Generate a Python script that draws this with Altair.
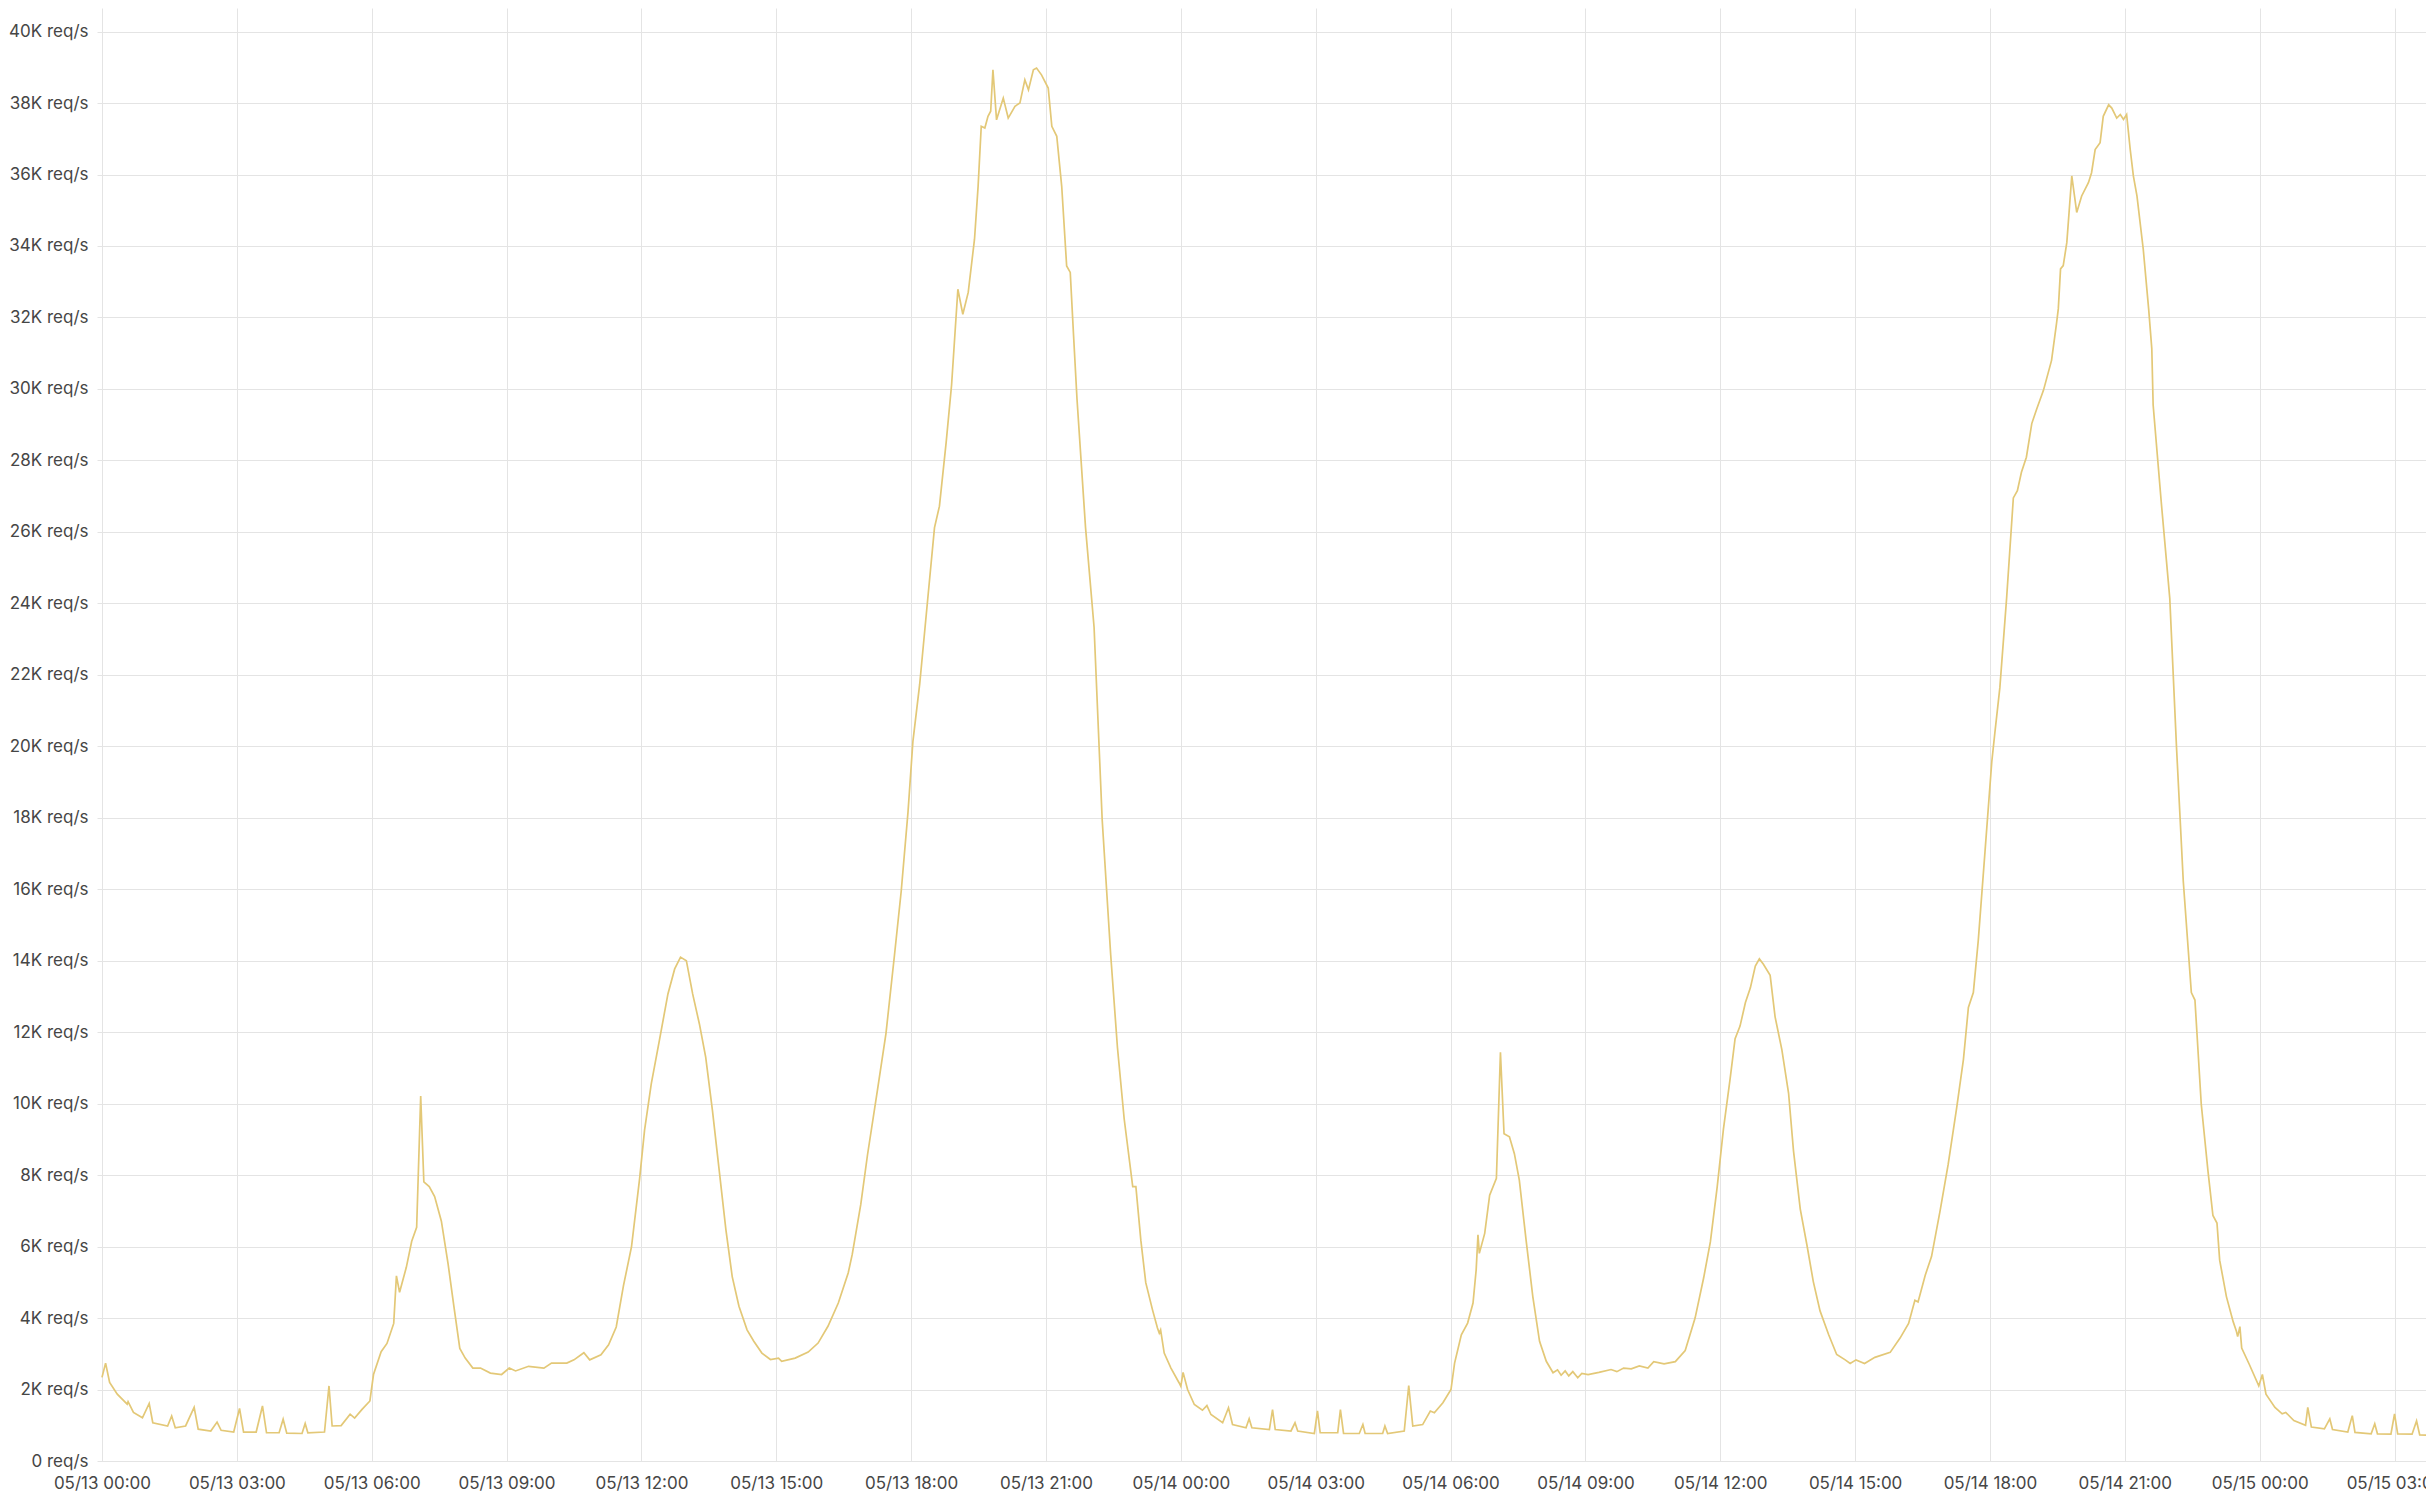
import altair as alt
import pandas as pd

# hours since 05/13 00:00, values in K req/s
hours = [
    0.0, 0.08, 0.17, 0.34, 0.56, 0.58, 0.7, 0.9, 1.05, 1.13, 1.46, 1.55, 1.63, 1.86, 2.05, 2.14,
    2.42, 2.56, 2.65, 2.93, 3.06, 3.15, 3.43, 3.57, 3.66, 3.94, 4.03, 4.11, 4.45, 4.52, 4.58, 4.95,
    5.05, 5.12, 5.32, 5.52, 5.62, 5.79, 5.96, 6.04, 6.21, 6.34, 6.49, 6.55, 6.62, 6.77, 6.89, 7.0,
    7.09, 7.16, 7.28, 7.40, 7.55, 7.70, 7.83, 7.96, 8.08, 8.25, 8.42, 8.64, 8.89, 9.06, 9.2, 9.49,
    9.83, 10.0, 10.34, 10.5, 10.72, 10.85, 11.1, 11.27, 11.44, 11.6, 11.78, 11.96, 12.07, 12.22, 12.4, 12.59,
    12.74, 12.87, 13.0, 13.14, 13.29, 13.43, 13.58, 13.73, 13.88, 14.02, 14.17, 14.35, 14.5, 14.68, 14.87, 15.05,
    15.12, 15.42, 15.71, 15.93, 16.15, 16.38, 16.6, 16.69, 16.88, 17.03, 17.25, 17.44, 17.63, 17.78, 17.93, 18.04,
    18.19, 18.37, 18.52, 18.63, 18.78, 18.9, 19.04, 19.15, 19.27, 19.41, 19.49, 19.56, 19.64, 19.71, 19.77, 19.82,
    19.9, 20.05, 20.16, 20.31, 20.42, 20.53, 20.61, 20.72, 20.79, 20.9, 21.05, 21.13, 21.24, 21.35, 21.46, 21.54,
    21.61, 21.69, 21.88, 22.07, 22.25, 22.44, 22.59, 22.74, 22.93, 23.0, 23.11, 23.22, 23.37, 23.48, 23.52, 23.55,
    23.63, 23.78, 23.96, 24.0, 24.05, 24.15, 24.3, 24.48, 24.58, 24.67, 24.93, 25.06, 25.15, 25.45, 25.52, 25.58,
    25.97, 26.04, 26.1, 26.45, 26.54, 26.6, 26.97, 27.04, 27.1, 27.49, 27.55, 27.62, 27.97, 28.05, 28.1, 28.49,
    28.54, 28.6, 28.97, 29.07, 29.16, 29.38, 29.55, 29.64, 29.83, 30.01, 30.09, 30.24, 30.38, 30.5, 30.57, 30.61,
    30.64, 30.76, 30.87, 31.02, 31.11, 31.19, 31.31, 31.42, 31.53, 31.68, 31.83, 31.98, 32.13, 32.28, 32.38, 32.46,
    32.55, 32.63, 32.72, 32.83, 32.92, 33.06, 33.3, 33.57, 33.7, 33.85, 34.02, 34.2, 34.39, 34.52, 34.75, 35.0,
    35.22, 35.44, 35.63, 35.78, 35.93, 36.07, 36.22, 36.33, 36.44, 36.56,
    36.67, 36.78, 36.87, 36.96, 37.11, 37.22, 37.37, 37.52, 37.63, 37.78, 37.93, 38.07, 38.22, 38.41, 38.59, 38.78,
    38.89, 39.02, 39.21, 39.44, 39.78, 40.0, 40.19, 40.33, 40.4, 40.56, 40.7, 40.89, 41.07, 41.26, 41.41, 41.52,
    41.63, 41.74, 41.89, 42.04, 42.11, 42.22, 42.37, 42.52, 42.61, 42.7, 42.81, 42.93, 43.04, 43.19, 43.37, 43.48,
    43.52, 43.57, 43.63, 43.71, 43.82, 43.93, 44.04, 44.19, 44.26, 44.34, 44.45, 44.52, 44.64, 44.71, 44.82, 44.9,
    44.97, 45.04, 45.12, 45.19, 45.27, 45.41, 45.53, 45.6, 45.63, 45.81, 46.0, 46.15, 46.3, 46.48, 46.56, 46.7,
    46.85, 46.96, 47.05, 47.11, 47.26, 47.41, 47.48, 47.51, 47.56, 47.6, 47.77, 47.98, 48.06, 48.14, 48.34, 48.5,
    48.58, 48.76, 49.02, 49.07, 49.15, 49.44, 49.56, 49.62, 49.96, 50.06, 50.12, 50.48, 50.56, 50.62, 50.92, 51.0,
    51.07, 51.39, 51.49, 51.56, 51.75,
]
kreq = [
    2.34, 2.74, 2.2, 1.87, 1.59, 1.66, 1.36, 1.21, 1.61, 1.07, 0.98, 1.26, 0.93, 0.98, 1.5, 0.89,
    0.84, 1.09, 0.86, 0.81, 1.47, 0.81, 0.81, 1.54, 0.79, 0.79, 1.17, 0.78, 0.77, 1.05, 0.79, 0.81,
    2.1, 0.98, 0.99, 1.31, 1.2, 1.45, 1.68, 2.42, 3.06, 3.29, 3.85, 5.18, 4.72, 5.42, 6.15, 6.54,
    10.21, 7.81, 7.68, 7.4, 6.71, 5.51, 4.31, 3.15, 2.88, 2.6, 2.6, 2.46, 2.42, 2.6, 2.52, 2.65,
    2.6, 2.74, 2.74, 2.83, 3.03, 2.83, 2.97, 3.25, 3.75, 4.9, 6.0, 7.9, 9.26, 10.56, 11.77, 13.07,
    13.77, 14.1, 14.0, 13.07, 12.23, 11.3, 9.81, 8.14, 6.47, 5.16, 4.33, 3.67, 3.35, 3.02, 2.84, 2.88,
    2.79, 2.88, 3.05, 3.3, 3.77, 4.42, 5.26, 5.78, 7.18, 8.57, 10.37, 11.96, 14.16, 15.95, 18.15, 20.14,
    21.73, 24.13, 26.12, 26.72, 28.51, 30.11, 32.79, 32.09, 32.7, 34.19, 35.67, 37.35, 37.3, 37.63, 37.77, 38.93,
    37.53, 38.14, 37.58, 37.91, 38.0, 38.65, 38.37, 38.93, 38.98, 38.79, 38.42, 37.35, 37.07, 35.67, 33.44, 33.26,
    31.58, 29.72, 26.12, 23.33, 17.95, 14.16, 11.57, 9.57, 7.68, 7.68, 6.18, 4.99, 4.23, 3.72, 3.58, 3.67,
    3.02, 2.6, 2.19, 2.09, 2.48, 2.0, 1.58, 1.42, 1.55, 1.3, 1.07, 1.49, 1.02, 0.93, 1.18, 0.93,
    0.88, 1.44, 0.88, 0.84, 1.07, 0.84, 0.77, 1.4, 0.79, 0.79, 1.44, 0.77, 0.77, 1.02, 0.77, 0.77,
    0.98, 0.77, 0.84, 2.11, 0.98, 1.02, 1.4, 1.35, 1.63, 2.0, 2.74, 3.53, 3.86, 4.42, 5.35, 6.33,
    5.81, 6.37, 7.44, 7.91, 11.44, 9.16, 9.07, 8.6, 7.86, 6.19, 4.6, 3.35, 2.79, 2.47, 2.55, 2.4,
    2.52, 2.38, 2.5, 2.33, 2.45, 2.42, 2.48, 2.56, 2.5, 2.6, 2.58, 2.66, 2.6, 2.78, 2.72, 2.78,
    3.09, 4.0, 5.12, 6.13, 7.65, 9.28, 10.7, 11.82, 12.17, 12.83,
    13.24, 13.85, 14.05, 13.9, 13.59, 12.43, 11.51, 10.29, 8.67, 7.05, 6.03, 5.02, 4.2, 3.54, 2.98, 2.83,
    2.73, 2.83, 2.73, 2.9, 3.04, 3.44, 3.85, 4.5, 4.45, 5.2, 5.72, 7.0, 8.3, 9.89, 11.24, 12.69,
    13.11, 14.57, 17.06, 19.56, 20.39, 21.64, 24.14, 26.95, 27.15, 27.67, 28.09, 29.03, 29.44, 29.96, 30.8, 31.83,
    32.24, 33.36, 33.45, 34.1, 35.96, 34.94, 35.4, 35.77, 36.05, 36.7, 36.89, 37.63, 37.95, 37.86, 37.58, 37.68,
    37.54, 37.68, 36.7, 35.96, 35.4, 33.91, 32.24, 31.13, 29.55, 26.84, 24.14, 19.97, 16.23, 13.11, 12.9, 9.99,
    8.11, 6.87, 6.66, 5.62, 4.6, 3.9, 3.64, 3.48, 3.76, 3.16, 2.7, 2.1, 2.42, 1.87, 1.5, 1.32,
    1.36, 1.13, 1.0, 1.5, 0.95, 0.9, 1.18, 0.88, 0.81, 1.27, 0.8, 0.76, 1.04, 0.76, 0.75, 1.32,
    0.76, 0.75, 1.12, 0.73, 0.72,
]
x_ticks = list(range(0, 52, 3))
y_ticks = list(range(0, 42, 2))

df = pd.DataFrame({"hours": hours, "kreq": kreq})

FONT = "Inter"
TXT = "#464646"
GRID = "#e4e4e4"

x_label = (
    "'05/' + (13 + floor(datum.value / 24)) + ' ' + "
    "(datum.value % 24 < 10 ? '0' : '') + (datum.value % 24) + ':00'"
)

chart = alt.Chart(df).mark_line(
    color="#E3C877", strokeWidth=1.7, clip=True, interpolate="linear"
).encode(
    x=alt.X(
        "hours:Q",
        scale=alt.Scale(domain=[-0.111, 51.70], nice=False, zero=False),
        axis=alt.Axis(
            title=None, values=x_ticks, labelExpr=x_label,
            grid=True, gridColor=GRID, gridWidth=1, ticks=False, domain=False,
            labelFont=FONT, labelFontSize=17, labelColor=TXT, labelPadding=14,
            labelFlush=False, labelOverlap=False,
        ),
    ),
    y=alt.Y(
        "kreq:Q",
        scale=alt.Scale(domain=[0, 40.66], nice=False, zero=True),
        axis=alt.Axis(
            title=None, values=y_ticks,
            labelExpr="datum.value == 0 ? '0 req/s' : datum.value + 'K req/s'",
            grid=True, gridColor=GRID, gridWidth=1, ticks=False, domain=False,
            labelFont=FONT, labelFontSize=17, labelColor=TXT, labelPadding=9,
            labelOverlap=False,
        ),
    ),
).properties(
    width=2329, height=1453,
    autosize=alt.AutoSizeParams(type="none"),
    padding={"left": 89, "top": 0, "right": 0, "bottom": 31},
    background="white",
).configure_view(strokeWidth=0)

chart.save("out.html", embed_options={"renderer": "svg", "actions": False})
